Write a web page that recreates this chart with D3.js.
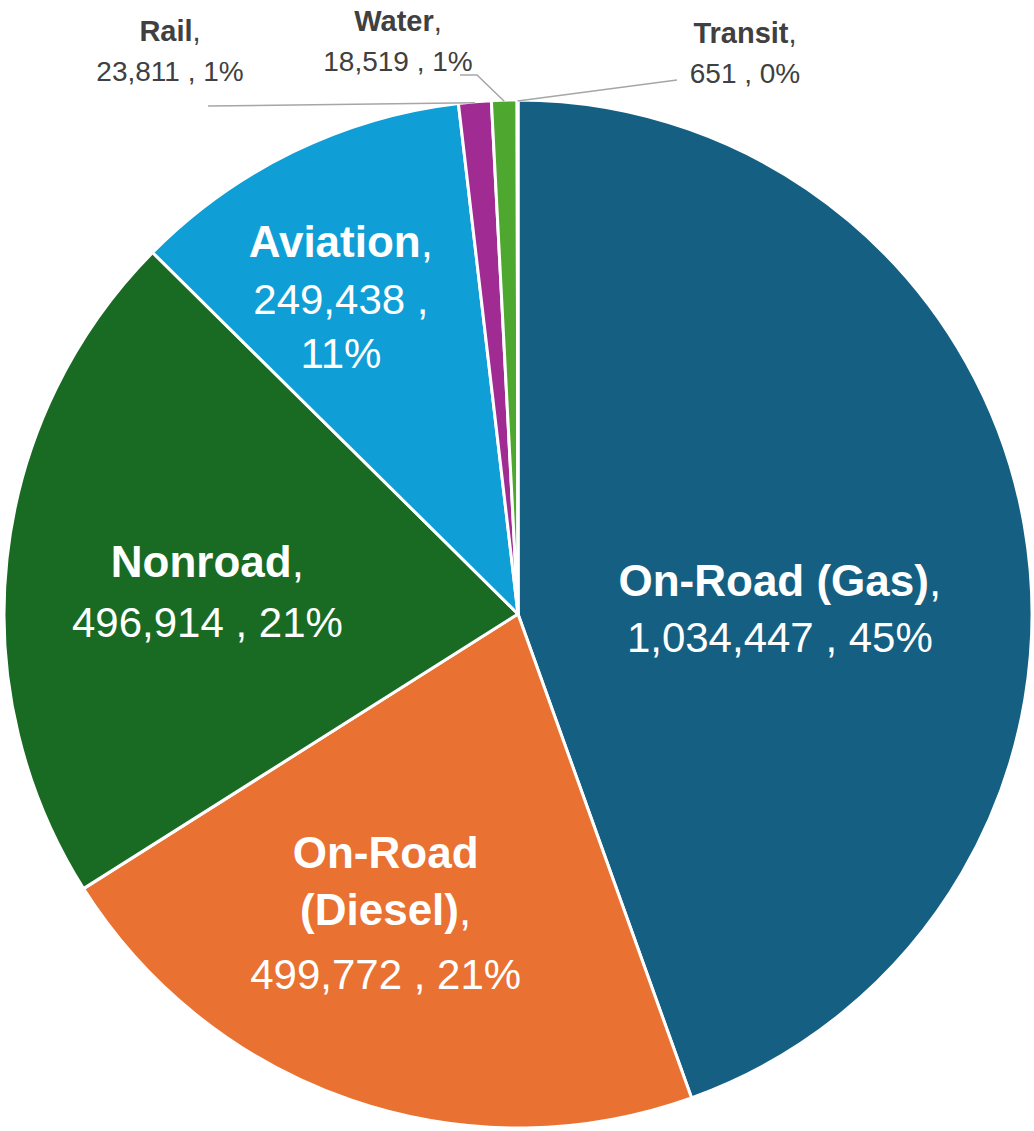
<!DOCTYPE html>
<html>
<head>
<meta charset="utf-8">
<script src="https://cdn.jsdelivr.net/npm/d3@7"></script>
<style>
  html, body { margin: 0; padding: 0; background: #fff; }
  svg { display: block; font-family: "Liberation Sans", Arial, sans-serif; }
</style>
</head>
<body>
<svg id="chart" width="1034" height="1131"></svg>
<script>
const categories = ["On-Road (Gas)", "On-Road (Diesel)", "Nonroad", "Aviation", "Rail", "Water", "Transit"];
const values = [1034447, 499772, 496914, 249438, 23811, 18519, 651];
const percents = [45, 21, 21, 11, 1, 1, 0];
const colors = ["#156082", "#e97132", "#196b24", "#0f9ed5", "#a02b93", "#4ea72e", "#0d3b50"];

// how each label is broken into lines
const nameLines = [["On-Road (Gas)"], ["On-Road", "(Diesel)"], ["Nonroad"], ["Aviation"], ["Rail"], ["Water"], ["Transit"]];
const splitNumbers = [false, false, false, true, false, false, false];
const outside = [false, false, false, false, true, true, true];

const width = 1034;
const height = 1131;
const cx = 518;
const cy = 614;
const radius = 514;

const fmt = d3.format(",");

const data = categories.map((c, i) => ({
  name: c,
  value: values[i],
  pct: percents[i],
  color: colors[i],
  lines: nameLines[i],
  split: splitNumbers[i],
  outside: outside[i],
}));

// label nudges from the arc centroid (inside) or label anchor (outside)
const inside = {
  "On-Road (Gas)": { dx: -42, dy: 35, gap: 56 },
  "On-Road (Diesel)": { dx: -32, dy: -38, gap: 64 },
  "Nonroad": { dx: -4, dy: -4, gap: 60 },
  "Aviation": { dx: -42, dy: -80, gap: 57 },
};
const outer = {
  "Rail": { x: 170, y: 41, line: [[208, 106]] },
  "Water": { x: 398, y: 31, line: [[460, 75], [477, 75]] },
  "Transit": { x: 745, y: 43, line: [[677, 80]] },
};

const svg = d3.select("#chart");
const g = svg.append("g").attr("transform", `translate(${cx},${cy})`);

const pie = d3.pie().sort(null).value((d) => d.value);
const arcs = pie(data);

const arc = d3.arc().innerRadius(0).outerRadius(radius);
const labelArc = d3.arc().innerRadius(radius * 0.6).outerRadius(radius * 0.6);

g.selectAll("path.slice")
  .data(arcs)
  .enter()
  .append("path")
  .attr("class", "slice")
  .attr("d", arc)
  .attr("fill", (d) => d.data.color)
  .attr("stroke", "#fff")
  .attr("stroke-width", 3)
  .attr("stroke-linejoin", "round");

// leader lines for the small slices
arcs.filter((d) => d.data.outside).forEach((d) => {
  const mid = (d.startAngle + d.endAngle) / 2;
  const end = [cx + radius * Math.sin(mid), cy - radius * Math.cos(mid) + 1];
  const pts = outer[d.data.name].line.concat([end]);
  svg.append("path")
    .attr("d", d3.line()(pts))
    .attr("fill", "none")
    .attr("stroke", "#a6a6a6")
    .attr("stroke-width", 1.5);
});

function numberLines(d) {
  const v = fmt(d.data.value);
  return d.data.split ? [v + " ,", d.data.pct + "%"] : [v + " , " + d.data.pct + "%"];
}

// inside labels
arcs.filter((d) => !d.data.outside).forEach((d) => {
  const [px, py] = labelArc.centroid(d);
  const n = inside[d.data.name];
  const x = cx + px + n.dx;
  const y = cy + py + n.dy;
  const t = svg.append("text")
    .attr("text-anchor", "middle")
    .attr("fill", "#fff");
  d.data.lines.forEach((line, i) => {
    t.append("tspan")
      .attr("x", x)
      .attr("y", y + i * 57)
      .attr("font-size", 44)
      .attr("font-weight", "bold")
      .text(line);
    if (i === d.data.lines.length - 1) {
      t.append("tspan").attr("font-size", 44).attr("font-weight", "normal").text(",");
    }
  });
  const base = y + (d.data.lines.length - 1) * 57;
  numberLines(d).forEach((line, i) => {
    t.append("tspan")
      .attr("x", x)
      .attr("y", base + n.gap + i * 54)
      .attr("font-size", 42)
      .text(line);
  });
});

// outside labels
arcs.filter((d) => d.data.outside).forEach((d) => {
  const o = outer[d.data.name];
  const t = svg.append("text")
    .attr("text-anchor", "middle")
    .attr("fill", "#404040");
  t.append("tspan")
    .attr("x", o.x)
    .attr("y", o.y)
    .attr("font-size", 29)
    .attr("font-weight", "bold")
    .text(d.data.lines[0]);
  t.append("tspan").attr("font-size", 29).text(",");
  t.append("tspan")
    .attr("x", o.x)
    .attr("y", o.y + 40)
    .attr("font-size", 28)
    .text(numberLines(d)[0]);
});
</script>
</body>
</html>
